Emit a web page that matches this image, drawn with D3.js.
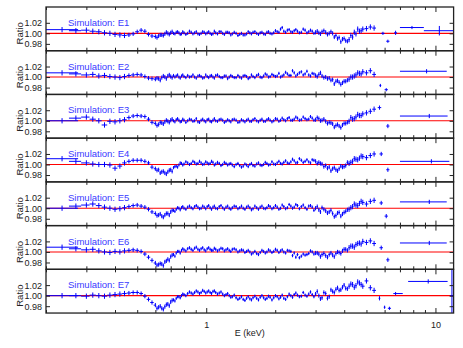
<!DOCTYPE html>
<html>
<head>
<meta charset="utf-8">
<script src="https://cdn.jsdelivr.net/npm/d3@7/dist/d3.min.js"></script>
<style>
  body { margin: 0; background: #fff; }
  text { font-family: "Liberation Sans", Arial, sans-serif; }
</style>
</head>
<body>
<svg id="chart" width="463" height="348"></svg>
<script>
// energy grid (keV) shared by all simulations
const energies = [
  0.235, 0.27, 0.30, 0.32, 0.34, 0.36, 0.38, 0.40, 0.42, 0.44,
  0.46, 0.48, 0.50, 0.52, 0.54, 0.56, 0.58, 0.60, 0.62, 0.64,
  0.66, 0.68, 0.70, 0.72, 0.74, 0.76, 0.78, 0.80, 0.83, 0.86,
  0.89, 0.92, 0.95, 0.98, 1.01, 1.04, 1.07, 1.10, 1.14, 1.18,
  1.22, 1.26, 1.30, 1.35, 1.40, 1.45, 1.50, 1.55, 1.60, 1.66,
  1.72, 1.78, 1.84, 1.90, 1.97, 2.04, 2.11, 2.18, 2.26, 2.34,
  2.42, 2.50, 2.60, 2.70, 2.80, 2.90, 3.00, 3.10, 3.20, 3.32,
  3.44, 3.56, 3.68, 3.80, 3.93, 4.06, 4.20, 4.35, 4.50, 4.66,
  4.82, 5.00, 5.20, 5.40
]
const ratioErr = [
  0.005, 0.005, 0.005, 0.005, 0.005, 0.005, 0.005, 0.005, 0.005, 0.005,
  0.004, 0.004, 0.004, 0.004, 0.004, 0.004, 0.004, 0.004, 0.004, 0.004,
  0.004, 0.004, 0.004, 0.003, 0.003, 0.003, 0.003, 0.003, 0.003, 0.003,
  0.003, 0.003, 0.003, 0.003, 0.003, 0.003, 0.003, 0.003, 0.003, 0.003,
  0.003, 0.003, 0.003, 0.003, 0.003, 0.003, 0.003, 0.003, 0.003, 0.003,
  0.003, 0.003, 0.003, 0.003, 0.003, 0.003, 0.003, 0.003, 0.003, 0.003,
  0.003, 0.003, 0.003, 0.003, 0.003, 0.003, 0.004, 0.004, 0.004, 0.004,
  0.004, 0.004, 0.004, 0.004, 0.004, 0.004, 0.005, 0.005, 0.005, 0.005,
  0.005, 0.005, 0.005, 0.005
]
// extra finer bins in the well-exposed 0.6-4.8 keV band
const energiesFine = [
  0.61, 0.63, 0.65, 0.67, 0.69, 0.71, 0.73, 0.75, 0.77, 0.79,
  0.815, 0.845, 0.875, 0.905, 0.935, 0.965, 0.995, 1.025, 1.055, 1.085,
  1.12, 1.16, 1.20, 1.24, 1.28, 1.325, 1.375, 1.425, 1.475, 1.525,
  1.575, 1.63, 1.69, 1.75, 1.81, 1.87, 1.935, 2.005, 2.075, 2.145,
  2.22, 2.30, 2.38, 2.46, 2.55, 2.65, 2.75, 2.85, 2.95, 3.05,
  3.15, 3.26, 3.38, 3.50, 3.62, 3.74, 3.865, 3.995, 4.13, 4.275,
  4.425, 4.58, 4.74
]
const ratioErrFine = [
  0.004, 0.004, 0.004, 0.004, 0.004, 0.004, 0.003, 0.003, 0.003, 0.003,
  0.003, 0.003, 0.003, 0.003, 0.003, 0.003, 0.003, 0.003, 0.003, 0.003,
  0.003, 0.003, 0.003, 0.003, 0.003, 0.003, 0.003, 0.003, 0.003, 0.003,
  0.003, 0.003, 0.003, 0.003, 0.003, 0.003, 0.003, 0.003, 0.003, 0.003,
  0.003, 0.003, 0.003, 0.003, 0.003, 0.003, 0.003, 0.003, 0.003, 0.004,
  0.004, 0.004, 0.004, 0.004, 0.004, 0.004, 0.004, 0.004, 0.004, 0.005,
  0.005, 0.005, 0.005
]

const labels = ["E1", "E2", "E3", "E4", "E5", "E6", "E7"]

const ratiosE1 = [
  1.007, 1.005, 1.006, 1.004, 1.003, 1.001, 1.000, 0.998, 0.997, 0.996,
  0.997, 0.999, 1.003, 1.006, 1.004, 0.998, 0.995, 0.994, 0.995, 0.997,
  0.999, 1.000, 1.001, 1.000, 1.002, 1.001, 0.999, 1.001, 1.000, 1.002,
  1.001, 0.999, 1.000, 1.002, 1.001, 1.000, 0.999, 1.001, 1.003, 1.000,
  1.002, 1.001, 0.999, 1.000, 0.998, 0.997, 0.999, 1.001, 1.002, 1.000,
  1.001, 0.999, 1.002, 1.000, 1.001, 1.003, 1.008, 1.004, 1.006, 1.003,
  1.005, 1.004, 1.002, 1.006, 1.003, 1.004, 1.002, 1.001, 1.003, 1.002,
  1.000, 1.000, 0.996, 0.992, 0.989, 0.986, 0.988, 0.993, 0.999, 1.004,
  1.008, 1.009, 1.012, 1.010
]
const fineE1 = [
  0.992, 0.997, 0.996, 1.002, 0.998, 1.003, 0.999, 1.003, 0.998, 1.003,
  0.998, 1.004, 0.999, 1.003, 0.998, 1.003, 0.999, 1.003, 0.998, 1.004,
  0.999, 1.003, 0.998, 1.002, 0.997, 1.002, 0.996, 1.000, 0.997, 1.003,
  0.999, 1.003, 0.998, 1.002, 0.998, 1.003, 0.999, 1.005, 1.002, 1.011,
  1.002, 1.007, 1.002, 1.007, 1.001, 1.008, 1.001, 1.006, 1.000, 1.004,
  0.999, 1.005, 0.998, 1.003, 0.993, 0.990, 0.984, 0.990, 0.985, 0.996,
  1.002, 1.008, 1.005
]
const ratiosE2 = [
  1.008, 1.006, 1.004, 1.005, 1.002, 1.003, 1.001, 1.000, 0.999, 1.001,
  1.003, 1.004, 1.005, 1.004, 1.001, 0.998, 0.997, 0.996, 0.997, 0.999,
  1.000, 1.002, 1.001, 1.003, 1.002, 1.000, 1.002, 1.001, 1.003, 1.001,
  1.000, 1.002, 1.001, 0.999, 1.001, 1.002, 1.000, 1.003, 1.001, 0.999,
  1.002, 1.000, 1.001, 0.999, 1.000, 1.002, 1.001, 0.999, 1.001, 1.003,
  1.000, 1.002, 1.004, 1.001, 1.003, 1.002, 1.000, 1.004, 1.006, 1.003,
  1.008, 1.005, 1.010, 1.006, 1.004, 1.007, 1.003, 1.005, 1.002, 1.000,
  0.998, 0.995, 0.992, 0.990, 0.989, 0.992, 0.996, 1.000, 1.004, 1.007,
  1.010, 1.008, 1.012, 1.005
]
const fineE2 = [
  0.998, 0.994, 1.002, 0.997, 1.004, 0.999, 1.000, 1.004, 0.998, 1.004,
  0.999, 1.000, 1.004, 0.998, 1.003, 0.998, 1.004, 0.999, 1.003, 0.998,
  1.004, 0.999, 1.002, 0.997, 1.003, 0.999, 1.003, 0.998, 1.003, 0.997,
  1.004, 0.999, 1.005, 0.999, 1.006, 1.000, 1.005, 1.001, 1.007, 1.002,
  1.009, 1.003, 1.012, 1.002, 1.008, 1.004, 1.011, 1.002, 1.006, 1.001,
  1.008, 0.999, 0.997, 0.994, 0.987, 0.993, 0.986, 0.992, 0.994, 1.000,
  1.002, 1.008, 1.006
]
const ratiosE3 = [
  1.000, 1.005, 1.007, 1.003, 1.000, 0.992, 0.999, 0.998, 1.000, 1.002,
  1.006, 1.009, 1.010, 1.009, 1.008, 1.003, 0.997, 0.995, 0.993, 0.996,
  0.998, 0.999, 1.001, 1.000, 1.002, 1.001, 0.999, 1.001, 1.000, 1.002,
  1.000, 0.998, 1.001, 1.000, 1.002, 0.999, 1.001, 1.000, 1.002, 1.001,
  0.999, 1.000, 1.002, 1.001, 0.998, 1.000, 1.001, 0.999, 1.002, 1.000,
  1.001, 0.999, 1.002, 1.001, 1.000, 1.003, 1.001, 1.002, 1.004, 1.001,
  1.003, 1.005, 1.002, 1.004, 1.003, 1.005, 1.002, 1.004, 1.001, 0.999,
  0.997, 0.994, 0.991, 0.990, 0.992, 0.995, 0.999, 1.003, 1.007, 1.010,
  1.013, 1.015, 1.018, 1.022
]
const fineE3 = [
  0.991, 0.997, 0.994, 1.001, 0.997, 1.003, 0.998, 1.004, 0.998, 1.003,
  0.997, 1.003, 0.999, 1.004, 0.997, 1.003, 0.998, 1.003, 0.998, 1.004,
  0.999, 1.003, 0.997, 1.002, 0.998, 1.003, 0.997, 1.002, 0.998, 1.003,
  0.999, 1.004, 0.998, 1.003, 0.999, 1.004, 0.998, 1.004, 0.999, 1.005,
  1.000, 1.006, 1.001, 1.007, 1.001, 1.007, 1.002, 1.008, 1.001, 1.006,
  1.000, 1.003, 0.995, 0.996, 0.988, 0.993, 0.987, 0.995, 0.997, 1.006,
  1.004, 1.012, 1.010
]
const ratiosE4 = [
  1.011, 1.006, 1.003, 1.001, 1.000, 1.000, 0.999, 0.993, 0.997, 1.003,
  1.006, 1.008, 1.008, 1.008, 1.006, 1.003, 0.995, 0.992, 0.990, 0.986,
  0.984, 0.986, 0.990, 0.994, 0.997, 0.999, 1.002, 1.001, 1.003, 1.002,
  1.004, 1.002, 1.003, 1.001, 1.003, 1.002, 1.004, 1.001, 1.002, 1.000,
  1.002, 1.001, 0.999, 1.000, 0.998, 0.997, 0.999, 1.000, 0.998, 1.001,
  0.999, 1.000, 1.002, 1.000, 1.001, 1.003, 1.002, 1.004, 1.003, 1.005,
  1.007, 1.004, 1.008, 1.006, 1.005, 1.009, 1.006, 1.004, 1.001, 0.998,
  0.995, 0.992, 0.990, 0.992, 0.995, 0.998, 1.002, 1.006, 1.010, 1.012,
  1.015, 1.013, 1.017, 1.020
]
const fineE4 = [
  0.989, 0.984, 0.987, 0.982, 0.989, 0.987, 0.996, 0.995, 1.003, 0.999,
  1.005, 1.000, 1.006, 1.001, 1.006, 1.000, 1.005, 1.001, 1.006, 0.999,
  1.004, 0.998, 1.004, 0.999, 1.002, 0.996, 1.002, 0.995, 1.001, 0.996,
  1.002, 0.997, 1.003, 0.998, 1.004, 0.999, 1.005, 1.000, 1.006, 1.001,
  1.007, 1.002, 1.010, 1.003, 1.011, 1.004, 1.009, 1.003, 1.008, 1.002,
  1.002, 0.996, 0.993, 0.988, 0.994, 0.988, 0.997, 0.996, 1.004, 1.004,
  1.011, 1.009, 1.016
]
const ratiosE5 = [
  1.000, 1.004, 1.006, 1.008, 1.005, 1.002, 1.000, 0.998, 0.999, 1.001,
  1.003, 1.005, 1.006, 1.004, 1.002, 0.998, 0.993, 0.990, 0.987, 0.985,
  0.987, 0.990, 0.993, 0.996, 0.998, 1.000, 1.001, 1.000, 1.002, 1.001,
  1.003, 1.002, 1.000, 1.002, 1.003, 1.001, 1.002, 1.000, 1.003, 1.001,
  1.002, 1.000, 1.001, 1.003, 1.001, 1.000, 1.002, 1.001, 0.999, 1.001,
  1.002, 1.000, 1.001, 1.003, 1.001, 1.002, 1.000, 1.003, 1.001, 1.004,
  1.002, 1.005, 1.003, 1.001, 1.004, 1.002, 1.000, 0.997, 1.001, 0.995,
  0.993, 0.990, 0.986, 0.992, 0.989, 0.994, 0.998, 1.003, 1.006, 1.009,
  1.011, 1.008, 1.013, 1.015
]
const fineE5 = [
  0.986, 0.989, 0.983, 0.990, 0.987, 0.996, 0.994, 1.001, 0.997, 1.003,
  0.998, 1.004, 0.999, 1.005, 0.999, 1.004, 0.999, 1.005, 0.998, 1.004,
  0.999, 1.005, 0.998, 1.004, 0.998, 1.004, 0.999, 1.004, 0.998, 1.004,
  0.997, 1.004, 0.998, 1.004, 0.999, 1.005, 0.999, 1.005, 0.998, 1.006,
  0.999, 1.007, 1.000, 1.007, 0.999, 1.006, 0.998, 1.005, 0.996, 1.003,
  0.993, 0.998, 0.991, 0.996, 0.984, 0.991, 0.985, 0.992, 0.997, 1.001,
  1.008, 1.005, 1.013
]
const ratiosE6 = [
  1.009, 1.006, 1.004, 1.005, 1.002, 1.000, 0.999, 1.001, 1.000, 1.002,
  1.003, 1.004, 1.003, 1.001, 0.996, 0.990, 0.984, 0.979, 0.976, 0.977,
  0.981, 0.986, 0.991, 0.995, 0.998, 1.001, 1.003, 1.004, 1.006, 1.005,
  1.007, 1.005, 1.006, 1.004, 1.006, 1.005, 1.003, 1.005, 1.004, 1.006,
  1.004, 1.003, 1.005, 1.004, 1.002, 1.003, 1.001, 1.000, 0.998, 0.997,
  0.999, 1.001, 1.000, 1.002, 1.001, 1.003, 1.002, 1.000, 1.003, 1.001,
  0.998, 0.995, 0.992, 0.994, 0.997, 1.000, 0.998, 0.996, 0.995, 0.993,
  0.995, 0.994, 0.997, 0.999, 1.002, 1.005, 1.008, 1.011, 1.014, 1.017,
  1.020, 1.018, 1.021, 1.016
]
const fineE6 = [
  0.975, 0.978, 0.974, 0.983, 0.984, 0.994, 0.992, 1.001, 0.998, 1.006,
  1.002, 1.008, 1.003, 1.009, 1.003, 1.008, 1.002, 1.008, 1.003, 1.007,
  1.002, 1.007, 1.002, 1.006, 1.001, 1.006, 1.000, 1.004, 0.999, 1.003,
  0.996, 1.001, 0.995, 1.003, 0.998, 1.004, 0.999, 1.005, 0.999, 1.004,
  0.998, 1.002, 0.993, 0.990, 0.989, 0.996, 0.995, 1.002, 0.996, 0.998,
  0.991, 0.997, 0.990, 0.998, 0.991, 1.000, 0.997, 1.005, 1.003, 1.011,
  1.009, 1.016, 1.015
]
const ratiosE7 = [
  1.000, 1.000, 0.999, 1.001, 1.000, 0.999, 1.001, 1.002, 1.003, 1.004,
  1.005, 1.006, 1.006, 1.004, 0.999, 0.993, 0.987, 0.982, 0.978, 0.976,
  0.979, 0.984, 0.988, 0.992, 0.995, 0.998, 1.000, 1.002, 1.004, 1.005,
  1.006, 1.007, 1.006, 1.008, 1.007, 1.006, 1.008, 1.006, 1.005, 1.003,
  1.002, 1.000, 0.998, 0.996, 0.995, 0.993, 0.995, 0.994, 0.996, 0.995,
  0.997, 0.996, 0.995, 0.997, 0.996, 0.998, 0.997, 0.995, 0.998, 1.000,
  1.002, 1.001, 0.999, 1.001, 1.003, 1.002, 1.003, 1.000, 0.996, 1.004,
  0.998, 1.008, 1.012, 1.010, 1.016, 1.014, 1.018, 1.021, 1.019, 1.024,
  1.018, 1.028, 1.015, 1.010
]
const fineE7 = [
  0.976, 0.980, 0.974, 0.983, 0.981, 0.991, 0.990, 0.998, 0.996, 1.003,
  1.000, 1.007, 1.003, 1.009, 1.004, 1.010, 1.005, 1.009, 1.004, 1.009,
  1.003, 1.007, 1.000, 1.004, 0.997, 1.001, 0.993, 0.998, 0.991, 0.998,
  0.992, 0.999, 0.992, 1.000, 0.993, 0.999, 0.992, 1.000, 0.994, 1.001,
  0.993, 1.003, 0.997, 1.005, 0.998, 1.006, 0.999, 1.007, 0.998, 1.008,
  0.994, 1.006, 0.995, 1.011, 1.006, 1.015, 1.011, 1.020, 1.013, 1.022,
  1.016, 1.026, 1.021
]

// high-energy bins: [centre, low edge, high edge, ratio, error]
const tailE1 = [[5.9, 5.8, 6.0, 1.000, 0.003], [6.2, 6.1, 6.3, 0.985, 0.003], [6.7, 6.6, 6.8, 1.001, 0.004],
                [7.9, 7.0, 8.9, 1.011, 0.003], [10.4, 8.9, 12.0, 1.005, 0.009]]
const tailE2 = [[5.75, 5.7, 5.8, 0.984, 0.003], [6.1, 6.0, 6.2, 0.976, 0.003], [9.15, 7.0, 11.2, 1.011, 0.004]]
const tailE3 = [[5.7, 5.6, 5.8, 1.025, 0.004], [6.2, 6.1, 6.3, 0.990, 0.004], [9.4, 7.0, 11.3, 1.009, 0.004]]
const tailE4 = [[5.8, 5.7, 5.9, 1.020, 0.004], [6.2, 6.1, 6.3, 0.990, 0.004], [9.6, 7.0, 11.5, 1.006, 0.004]]
const tailE5 = [[5.8, 5.7, 5.9, 1.010, 0.004], [6.1, 6.0, 6.2, 0.985, 0.004], [9.4, 7.0, 11.2, 1.012, 0.004]]
const tailE6 = [[5.8, 5.7, 5.9, 1.008, 0.004], [6.2, 6.1, 6.3, 0.985, 0.004], [9.4, 7.0, 11.2, 1.017, 0.004]]
const tailE7 = [[5.7, 5.65, 5.75, 0.995, 0.004], [6.0, 5.95, 6.05, 0.978, 0.003], [6.3, 6.2, 6.4, 0.976, 0.003],
                [6.7, 6.55, 7.2, 1.004, 0.003], [9.3, 7.6, 11.3, 1.027, 0.004], [11.8, 11.6, 12.0, 1.000, 0.06]]

const ratios = [ratiosE1, ratiosE2, ratiosE3, ratiosE4, ratiosE5, ratiosE6, ratiosE7]
const fines = [fineE1, fineE2, fineE3, fineE4, fineE5, fineE6, fineE7]
const tails = [tailE1, tailE2, tailE3, tailE4, tailE5, tailE6, tailE7]

const xDomain = [0.2, 12]
const yDomain = [0.967, 1.05]
const yTicks = [0.98, 1.00, 1.02]

function draw() {
  const svg = d3.select("#chart")
  const left = 46, right = 453.6, top = 7, panelH = 43.72

  const x = d3.scaleLog().domain(xDomain).range([left, right])
  const majors = [1, 10]
  const minors = x.ticks().filter(t => !majors.includes(t))

  svg.append("defs").selectAll("clipPath")
     .data(labels).join("clipPath")
     .attr("id", (d, i) => "clip" + i)
     .append("rect")
     .attr("x", left).attr("y", (d, i) => top + i * panelH)
     .attr("width", right - left).attr("height", panelH)

  labels.forEach((lab, i) => {
    const y0 = top + i * panelH
    const y = d3.scaleLinear().domain(yDomain).range([y0 + panelH, y0])
    const g = svg.append("g")

    // merge coarse and fine bins, bin edges halfway (in log) between neighbours
    const raw = energies.map((e, j) => [e, ratios[i][j], ratioErr[j]])
      .concat(energiesFine.map((e, j) => [e, fines[i][j], ratioErrFine[j]]))
      .sort((a, b) => a[0] - b[0])
    const pts = raw.map((d, j) => {
      const e = d[0]
      const lo = j > 0 ? Math.sqrt(raw[j - 1][0] * e) : xDomain[0]
      const hi = j > 0 ? (j < raw.length - 1 ? Math.sqrt(e * raw[j + 1][0]) : e * e / lo)
                       : e * e / xDomain[0]
      return [e, lo, hi, d[1], d[2]]
    }).concat(tails[i])

    const marks = g.append("g").attr("clip-path", `url(#clip${i})`)

    marks.append("line")
      .attr("x1", left).attr("x2", right)
      .attr("y1", y(1)).attr("y2", y(1))
      .attr("stroke", "#ff0000").attr("stroke-width", 1.1)

    const pg = marks.append("g").attr("stroke", "#0000ff").attr("stroke-width", 1)
    pg.selectAll("line.h").data(pts).join("line").attr("class", "h")
      .attr("x1", d => x(d[1])).attr("x2", d => x(d[2]))
      .attr("y1", d => y(d[3])).attr("y2", d => y(d[3]))
    pg.selectAll("line.v").data(pts).join("line").attr("class", "v")
      .attr("x1", d => x(d[0])).attr("x2", d => x(d[0]))
      .attr("y1", d => y(d[3] - d[4])).attr("y2", d => y(d[3] + d[4]))

    // axes, ticks pointing inward
    const tickStyle = sel => {
      sel.select(".domain").remove()
      sel.selectAll("line").attr("stroke", "#222")
      sel.selectAll("text").attr("font-size", 9).attr("fill", "#222")
    }
    g.append("g").attr("transform", `translate(0,${y0 + panelH})`)
      .call(d3.axisBottom(x).tickValues(majors).tickSize(-5)
        .tickFormat(i === labels.length - 1 ? d3.format("d") : "").tickPadding(9))
      .call(tickStyle)
    g.append("g").attr("transform", `translate(0,${y0 + panelH})`)
      .call(d3.axisBottom(x).tickValues(minors).tickSize(-3).tickFormat(""))
      .call(tickStyle)
    g.append("g").attr("transform", `translate(0,${y0})`)
      .call(d3.axisTop(x).tickValues(majors).tickSize(-5).tickFormat(""))
      .call(tickStyle)
    g.append("g").attr("transform", `translate(0,${y0})`)
      .call(d3.axisTop(x).tickValues(minors).tickSize(-3).tickFormat(""))
      .call(tickStyle)
    g.append("g").attr("transform", `translate(${left},0)`)
      .call(d3.axisLeft(y).tickValues(yTicks).tickSize(-4).tickPadding(4).tickFormat(d3.format(".2f")))
      .call(tickStyle)
    g.append("g").attr("transform", `translate(${right},0)`)
      .call(d3.axisRight(y).tickValues(yTicks).tickSize(-4).tickFormat(""))
      .call(tickStyle)

    g.append("rect")
      .attr("x", left).attr("y", y0).attr("width", right - left).attr("height", panelH)
      .attr("fill", "none").attr("stroke", "#222").attr("stroke-width", 1.3)

    g.append("text")
      .attr("x", 68).attr("y", y0 + 19)
      .attr("font-size", 9.5).attr("fill", "#3a3aff")
      .text("Simulation: " + lab)

    g.append("text")
      .attr("transform", `translate(23,${y(1)}) rotate(-90)`)
      .attr("text-anchor", "middle")
      .attr("font-size", 9.5).attr("fill", "#222")
      .text("Ratio")
  })

  svg.append("text")
    .attr("x", (left + right) / 2).attr("y", 336)
    .attr("text-anchor", "middle").attr("font-size", 9).attr("fill", "#222")
    .text("E (keV)")
}
draw()
</script>
</body>
</html>
